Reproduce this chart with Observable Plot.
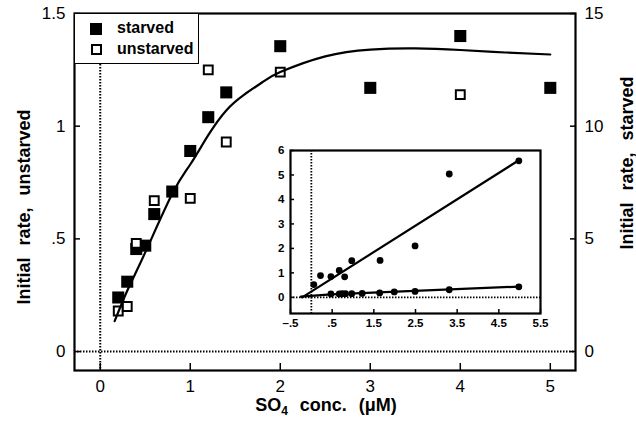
<!DOCTYPE html>
<html>
<head>
<meta charset="utf-8">
<script src="https://cdn.jsdelivr.net/npm/d3@7"></script>
<script src="https://cdn.jsdelivr.net/npm/@observablehq/plot@0.6"></script>
<style>
  html, body { margin: 0; padding: 0; background: white; }
  #wrap { position: relative; width: 636px; height: 421px; font-family: "Liberation Sans", Arial, sans-serif; color: black; }
  #wrap svg { position: absolute; overflow: visible; }
  .lab { position: absolute; font-weight: bold; font-size: 18px; white-space: nowrap; word-spacing: 7px; }
  .rot { transform: translate(-50%, -50%) rotate(-90deg); }
  #legend { position: absolute; left: 74px; top: 13px; width: 125px; height: 51px; border: 1.5px solid black; background: white; box-sizing: border-box; }
  .lg { position: absolute; font-weight: bold; font-size: 16px; }
  .sq { position: absolute; box-sizing: border-box; }
</style>
</head>
<body>
<div id="wrap"></div>
<script>
// Main chart: SO4 concentration (µM) vs initial rate
const starvedConc   = [0.2, 0.3, 0.4, 0.5, 0.6, 0.8, 1.0, 1.2, 1.4, 2.0, 3.0, 4.0, 5.0];
const starvedRate   = [2.4, 3.1, 4.55, 4.7, 6.1, 7.1, 8.9, 10.4, 11.5, 13.55, 11.7, 14.0, 11.7]; // right axis
const unstarvedConc = [0.2, 0.3, 0.4, 0.6, 1.0, 1.2, 1.4, 2.0, 4.0];
const unstarvedRate = [0.18, 0.20, 0.48, 0.67, 0.68, 1.25, 0.93, 1.24, 1.14];              // left axis
const fitConc = [0.16, 0.3, 0.5, 0.8, 1.0, 1.2, 1.4, 1.6, 1.8, 2.0, 2.5, 3.0, 3.5, 4.0, 4.5, 5.0];
const fitRate = [0.135, 0.27, 0.44, 0.70, 0.83, 0.96, 1.07, 1.14, 1.195, 1.24, 1.31, 1.34, 1.345, 1.338, 1.327, 1.318];
const xTicks = [0, 1, 2, 3, 4, 5];
const yTicks = [0, 0.5, 1, 1.5];
const yTickLabels = ["0", ".5", "1", "1.5"];
const yRightTickLabels = ["0", "5", "10", "15"];

// Inset (double reciprocal plot)
const insetUpperX = [0.06, 0.22, 0.47, 0.67, 0.80, 0.97, 1.65, 2.49, 3.31, 4.98];
const insetUpperY = [0.52, 0.89, 0.85, 1.10, 0.84, 1.50, 1.51, 2.10, 5.04, 5.58];
const insetLowerX = [0.47, 0.67, 0.74, 0.82, 0.97, 1.22, 1.64, 1.99, 2.49, 3.31, 4.98];
const insetLowerY = [0.14, 0.14, 0.15, 0.15, 0.15, 0.16, 0.18, 0.22, 0.24, 0.31, 0.43];
const insetUpperFitX = [-0.22, 4.98];
const insetUpperFitY = [0, 5.6];
const insetLowerFitX = [-0.25, 0.47, 4.98];
const insetLowerFitY = [0.03, 0.12, 0.44];
const insetXTicks = [-0.5, 0.5, 1.5, 2.5, 3.5, 4.5, 5.5];
const insetXTickLabels = ["\u2013.5", ".5", "1.5", "2.5", "3.5", "4.5", "5.5"];
const insetYTicks = [0, 1, 2, 3, 4, 5, 6];

const starved = starvedConc.map((x, i) => ({x, y: starvedRate[i]}));
const unstarved = unstarvedConc.map((x, i) => ({x, y: unstarvedRate[i]}));
const fit = fitConc.map((x, i) => ({x, y: fitRate[i]}));
const upper = insetUpperX.map((x, i) => ({x, y: insetUpperY[i]}));
const lower = insetLowerX.map((x, i) => ({x, y: insetLowerY[i]}));
const upperFit = insetUpperFitX.map((x, i) => ({x, y: insetUpperFitY[i]}));
const lowerFit = insetLowerFitX.map((x, i) => ({x, y: insetLowerFitY[i]}));

const dotted = {stroke: "black", strokeWidth: 2, strokeDasharray: "1.5,1.5"};

const main = Plot.plot({
  width: 636, height: 421,
  marginLeft: 74, marginRight: 61, marginTop: 13, marginBottom: 51,
  x: {domain: [-0.286, 5.28], label: null},
  y: {domain: [-0.084, 1.5], label: null},
  style: {fontFamily: "Liberation Sans, Arial, sans-serif", fontSize: "16px", background: "transparent", color: "black"},
  marks: [
    Plot.ruleY([0], dotted),
    Plot.ruleX([0], dotted),
    Plot.dot(starved, {x: "x", y: d => d.y / 10, symbol: "square", r: 6.8, fill: "black", stroke: "none"}),
    Plot.dot(unstarved, {x: "x", y: "y", symbol: "square", r: 5, fill: "white", stroke: "black", strokeWidth: 2}),
    Plot.line(fit, {x: "x", y: "y", curve: "natural", stroke: "black", strokeWidth: 2.2}),
    Plot.axisX(xTicks, {anchor: "bottom", tickSize: -7, tickPadding: 16, strokeWidth: 1.5, tickFormat: d => String(d), fontSize: 17, label: null}),
    Plot.axisY(yTicks, {anchor: "left", tickSize: -6, tickPadding: 15, strokeWidth: 1.5, tickFormat: d => yTickLabels[yTicks.indexOf(d)], fontSize: 17, label: null}),
    Plot.axisY(yTicks, {anchor: "right", tickSize: -6, tickPadding: 15, strokeWidth: 1.5, tickFormat: d => yRightTickLabels[yTicks.indexOf(d)], fontSize: 17, label: null}),
    Plot.frame({stroke: "black", strokeWidth: 2.2})
  ]
});
main.style.left = "0px"; main.style.top = "0px";

const inset = Plot.plot({
  width: 300, height: 200,
  marginLeft: 40, marginRight: 10, marginTop: 10, marginBottom: 27,
  x: {domain: [-0.5, 5.5], label: null},
  y: {domain: [-0.66, 6], label: null},
  style: {fontFamily: "Liberation Sans, Arial, sans-serif", fontSize: "11px", fontWeight: "bold", background: "transparent", color: "black"},
  marks: [
    Plot.frame({fill: "white", stroke: "none"}),
    Plot.ruleY([0], {...dotted, strokeWidth: 1.8}),
    Plot.ruleX([0], {...dotted, strokeWidth: 1.8}),
    Plot.line(upperFit, {x: "x", y: "y", stroke: "black", strokeWidth: 2.2}),
    Plot.line(lowerFit, {x: "x", y: "y", stroke: "black", strokeWidth: 2.2}),
    Plot.dot(upper, {x: "x", y: "y", r: 3.4, fill: "black"}),
    Plot.dot(lower, {x: "x", y: "y", r: 3.4, fill: "black"}),
    Plot.axisX(insetXTicks, {anchor: "bottom", tickSize: -4, tickPadding: 9, strokeWidth: 1.5, tickFormat: d => insetXTickLabels[insetXTicks.indexOf(d)], fontSize: 11.5, fontWeight: "bold", label: null}),
    Plot.axisY(insetYTicks, {anchor: "left", tickSize: -4, tickPadding: 10, strokeWidth: 1.5, tickFormat: d => String(d), fontSize: 11.5, fontWeight: "bold", label: null}),
    Plot.frame({stroke: "black", strokeWidth: 2.2})
  ]
});
inset.style.left = "250px"; inset.style.top = "140px";

const wrap = document.getElementById("wrap");
wrap.appendChild(main);
wrap.appendChild(inset);

wrap.insertAdjacentHTML("beforeend", `
  <div id="legend">
    <div class="sq" style="left:15px;top:9px;width:12px;height:12px;background:black;"></div>
    <div class="lg" style="left:42px;top:5px;">starved</div>
    <div class="sq" style="left:16px;top:30px;width:11px;height:11px;border:2px solid black;background:white;"></div>
    <div class="lg" style="left:42px;top:26px;">unstarved</div>
  </div>
  <div class="lab rot" style="left:24px;top:207px;">Initial rate, unstarved</div>
  <div class="lab rot" style="left:627px;top:163px;">Initial rate, starved</div>
  <div class="lab" style="left:326px;top:406px;transform:translate(-50%,-50%);">SO<sub style="font-size:12px;vertical-align:-4px;">4</sub> conc. (\u03BCM)</div>
`);
</script>
</body>
</html>
